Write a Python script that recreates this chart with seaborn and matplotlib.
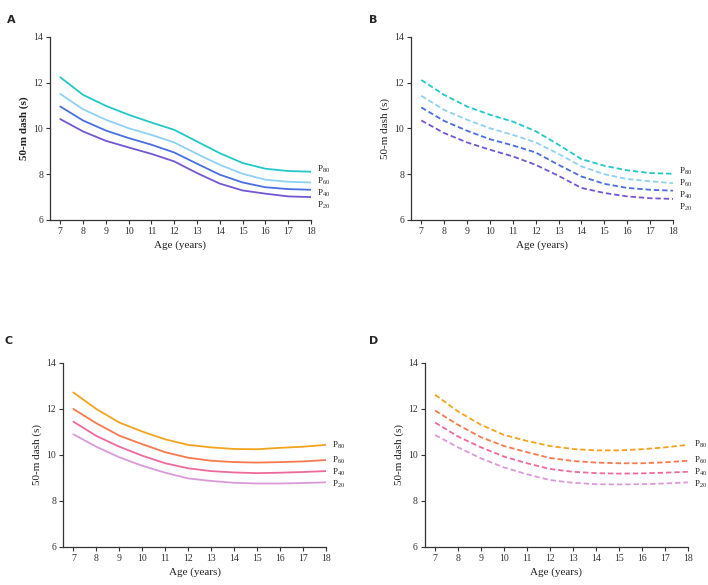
import matplotlib.pyplot as plt
import numpy as np
import pandas as pd
import seaborn as sns

ages = list(range(7, 19))
pct = ["P80", "P60", "P40", "P20"]
pct_labels = [r"P$_{80}$", r"P$_{60}$", r"P$_{40}$", r"P$_{20}$"]

# panel A (solid) and B (dashed), blue family
a_p80 = [12.24, 11.47, 10.99, 10.60, 10.26, 9.94, 9.43, 8.92, 8.49, 8.24, 8.14, 8.11]
a_p60 = [11.51, 10.84, 10.38, 10.01, 9.72, 9.39, 8.89, 8.41, 8.02, 7.76, 7.67, 7.64]
a_p40 = [10.96, 10.35, 9.91, 9.58, 9.29, 8.95, 8.46, 7.98, 7.64, 7.43, 7.35, 7.32]
a_p20 = [10.41, 9.87, 9.46, 9.17, 8.89, 8.56, 8.05, 7.59, 7.29, 7.15, 7.03, 7.00]

b_p80 = [12.12, 11.47, 10.96, 10.60, 10.30, 9.88, 9.29, 8.66, 8.37, 8.17, 8.05, 8.02]
b_p60 = [11.43, 10.81, 10.38, 10.01, 9.72, 9.39, 8.89, 8.34, 8.00, 7.79, 7.69, 7.61]
b_p40 = [10.92, 10.33, 9.90, 9.53, 9.26, 8.95, 8.41, 7.90, 7.58, 7.40, 7.32, 7.28]
b_p20 = [10.35, 9.80, 9.39, 9.07, 8.78, 8.41, 7.93, 7.40, 7.18, 7.03, 6.95, 6.92]

# panel C (solid) and D (dashed), warm family
c_p80 = [12.72, 12.00, 11.41, 11.02, 10.68, 10.44, 10.33, 10.26, 10.25, 10.31, 10.36, 10.44]
c_p60 = [12.00, 11.38, 10.84, 10.47, 10.12, 9.88, 9.75, 9.69, 9.67, 9.69, 9.72, 9.78]
c_p40 = [11.45, 10.83, 10.36, 9.97, 9.64, 9.42, 9.30, 9.24, 9.21, 9.23, 9.26, 9.30]
c_p20 = [10.90, 10.36, 9.90, 9.53, 9.23, 8.98, 8.87, 8.79, 8.76, 8.76, 8.78, 8.81]

d_p80 = [12.62, 11.89, 11.31, 10.87, 10.61, 10.39, 10.26, 10.20, 10.20, 10.25, 10.33, 10.44]
d_p60 = [11.93, 11.31, 10.77, 10.39, 10.12, 9.87, 9.74, 9.67, 9.64, 9.64, 9.68, 9.75]
d_p40 = [11.41, 10.80, 10.33, 9.93, 9.64, 9.39, 9.27, 9.21, 9.19, 9.20, 9.23, 9.27]
d_p20 = [10.87, 10.33, 9.85, 9.46, 9.16, 8.91, 8.79, 8.73, 8.72, 8.73, 8.76, 8.81]

blues = ["#22c8c8", "#8fd0f5", "#4a6ee0", "#7456d4"]
warms = ["#f5a31e", "#f7794e", "#ef6a9c", "#d99ad8"]

sns.set_theme(style="ticks")
plt.rcParams["font.family"] = ["Liberation Serif", "DejaVu Serif"]
plt.rcParams["mathtext.fontset"] = "custom"
plt.rcParams["mathtext.rm"] = "Liberation Serif"
plt.rcParams["mathtext.it"] = "Liberation Serif"

fig = plt.figure(figsize=(7.08, 5.85), dpi=100)

panels = [
    ("A", [0.0706, 0.624, 0.3686, 0.3128], [a_p80, a_p60, a_p40, a_p20], blues, False, True),
    ("B", [0.5805, 0.624, 0.370, 0.3128], [b_p80, b_p60, b_p40, b_p20], blues, True, False),
    ("C", [0.089, 0.065, 0.3715, 0.3145], [c_p80, c_p60, c_p40, c_p20], warms, False, False),
    ("D", [0.600, 0.065, 0.3715, 0.3145], [d_p80, d_p60, d_p40, d_p20], warms, True, False),
]
letter_pos = {"A": (0.010, 0.975), "B": (0.521, 0.975), "C": (0.006, 0.425), "D": (0.521, 0.425)}

for letter, rect, series, colors, dashed, bold_label in panels:
    ax = fig.add_axes(rect)
    df = pd.DataFrame({
        "age": ages * 4,
        "value": np.concatenate(series),
        "pct": np.repeat(pct, len(ages)),
    })
    sns.lineplot(data=df, x="age", y="value", hue="pct", hue_order=pct,
                 palette=colors, linewidth=1.3, ax=ax, legend=False)
    if dashed:
        for ln in ax.get_lines():
            ln.set_dashes((3, 1.6))

    # end labels, pushed apart so they don't collide
    gap = 0.52
    ys = []
    for vals in series:
        y = vals[-1] - 0.05
        if ys and ys[-1] - y < gap:
            y = ys[-1] - gap
        ys.append(y)
    shift = (sum(v[-1] for v in series) - sum(ys)) / len(ys) * 0.6
    for y, lab in zip(ys, pct_labels):
        ax.text(18.25, y + shift, lab, fontsize=6.5, va="center", ha="left", color="#222222")

    ax.set_xlim(6.55, 18)
    ax.set_ylim(6, 14)
    ax.set_xticks(ages)
    ax.set_yticks([6, 8, 10, 12, 14])
    ax.tick_params(labelsize=7, length=3, width=0.8, colors="#333333", pad=2)
    ax.set_xlabel("Age (years)", fontsize=8, color="#222222", labelpad=3)
    ax.set_ylabel("50-m dash (s)", fontsize=8, color="#222222", labelpad=3,
                  fontweight="bold" if bold_label else "normal")
    for side in ["top", "right"]:
        ax.spines[side].set_visible(False)
    for side in ["left", "bottom"]:
        ax.spines[side].set_linewidth(0.9)
        ax.spines[side].set_color("#333333")

    fig.text(*letter_pos[letter], letter, fontsize=8, fontweight="bold",
             family="DejaVu Sans", va="top", ha="left")

fig.savefig("out.png", dpi=100)
